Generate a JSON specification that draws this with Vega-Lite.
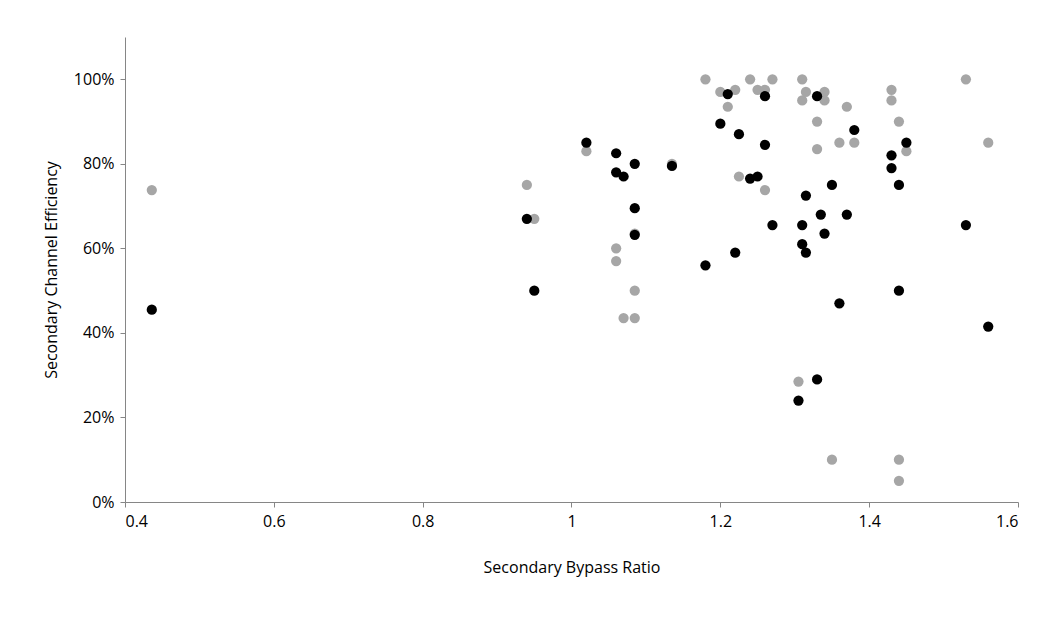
{"$schema":"https://vega.github.io/schema/vega-lite/v6.json","autosize":"none","width":893,"height":465,"padding":{"left":125,"top":37,"right":45,"bottom":125},"background":"white",
"data":{"values":[
{"s":"A","x":0.436,"y":0.738},{"s":"A","x":0.94,"y":0.75},{"s":"A","x":0.95,"y":0.67},{"s":"A","x":1.02,"y":0.83},{"s":"A","x":1.06,"y":0.60},{"s":"A","x":1.06,"y":0.57},{"s":"A","x":1.07,"y":0.435},{"s":"A","x":1.085,"y":0.435},{"s":"A","x":1.085,"y":0.50},{"s":"A","x":1.085,"y":0.635},{"s":"A","x":1.135,"y":0.80},{"s":"A","x":1.18,"y":1.0},{"s":"A","x":1.2,"y":0.97},{"s":"A","x":1.21,"y":0.935},{"s":"A","x":1.22,"y":0.975},{"s":"A","x":1.225,"y":0.77},{"s":"A","x":1.24,"y":1.0},{"s":"A","x":1.25,"y":0.975},{"s":"A","x":1.26,"y":0.975},{"s":"A","x":1.27,"y":1.0},{"s":"A","x":1.26,"y":0.738},{"s":"A","x":1.31,"y":1.0},{"s":"A","x":1.31,"y":0.95},{"s":"A","x":1.315,"y":0.97},{"s":"A","x":1.33,"y":0.90},{"s":"A","x":1.33,"y":0.835},{"s":"A","x":1.34,"y":0.97},{"s":"A","x":1.34,"y":0.95},{"s":"A","x":1.36,"y":0.85},{"s":"A","x":1.37,"y":0.935},{"s":"A","x":1.38,"y":0.85},{"s":"A","x":1.43,"y":0.975},{"s":"A","x":1.43,"y":0.95},{"s":"A","x":1.44,"y":0.90},{"s":"A","x":1.45,"y":0.83},{"s":"A","x":1.53,"y":1.0},{"s":"A","x":1.56,"y":0.85},{"s":"A","x":1.305,"y":0.285},{"s":"A","x":1.35,"y":0.10},{"s":"A","x":1.44,"y":0.10},{"s":"A","x":1.44,"y":0.05},
{"s":"B","x":0.436,"y":0.455},{"s":"B","x":0.94,"y":0.67},{"s":"B","x":0.95,"y":0.50},{"s":"B","x":1.02,"y":0.85},{"s":"B","x":1.06,"y":0.825},{"s":"B","x":1.06,"y":0.78},{"s":"B","x":1.07,"y":0.77},{"s":"B","x":1.085,"y":0.80},{"s":"B","x":1.085,"y":0.695},{"s":"B","x":1.085,"y":0.632},{"s":"B","x":1.135,"y":0.795},{"s":"B","x":1.18,"y":0.56},{"s":"B","x":1.2,"y":0.895},{"s":"B","x":1.21,"y":0.965},{"s":"B","x":1.22,"y":0.59},{"s":"B","x":1.225,"y":0.87},{"s":"B","x":1.24,"y":0.765},{"s":"B","x":1.25,"y":0.77},{"s":"B","x":1.26,"y":0.96},{"s":"B","x":1.26,"y":0.845},{"s":"B","x":1.27,"y":0.655},{"s":"B","x":1.305,"y":0.24},{"s":"B","x":1.31,"y":0.655},{"s":"B","x":1.31,"y":0.61},{"s":"B","x":1.315,"y":0.59},{"s":"B","x":1.315,"y":0.725},{"s":"B","x":1.33,"y":0.96},{"s":"B","x":1.33,"y":0.29},{"s":"B","x":1.335,"y":0.68},{"s":"B","x":1.34,"y":0.635},{"s":"B","x":1.35,"y":0.75},{"s":"B","x":1.36,"y":0.47},{"s":"B","x":1.37,"y":0.68},{"s":"B","x":1.38,"y":0.88},{"s":"B","x":1.43,"y":0.82},{"s":"B","x":1.43,"y":0.79},{"s":"B","x":1.44,"y":0.75},{"s":"B","x":1.44,"y":0.50},{"s":"B","x":1.45,"y":0.85},{"s":"B","x":1.53,"y":0.655},{"s":"B","x":1.56,"y":0.415}
]},
"mark":{"type":"circle","size":105,"opacity":1},
"encoding":{
"x":{"field":"x","type":"quantitative","scale":{"domain":[0.4,1.6],"nice":false,"zero":false},"axis":{"title":"Secondary Bypass Ratio","values":[0.4,0.6,0.8,1,1.2,1.4,1.6],"format":"~g","grid":false,"titlePadding":30,"labelPadding":6}},
"y":{"field":"y","type":"quantitative","scale":{"domain":[0,1.1],"nice":false},"axis":{"title":"Secondary Channel Efficiency","values":[0,0.2,0.4,0.6,0.8,1.0],"format":".0%","grid":false,"titlePadding":14,"labelPadding":6}},
"color":{"field":"s","type":"nominal","scale":{"domain":["A","B"],"range":["#a6a6a6","#000000"]},"legend":null},
"order":{"field":"s","sort":"ascending"}
},
"config":{"view":{"stroke":null},"font":"Open Sans","axis":{"domainColor":"#868686","tickColor":"#868686","labelColor":"#000","titleColor":"#000","labelFontSize":16,"titleFontSize":16,"titleFontWeight":"normal","tickSize":5}}
}
